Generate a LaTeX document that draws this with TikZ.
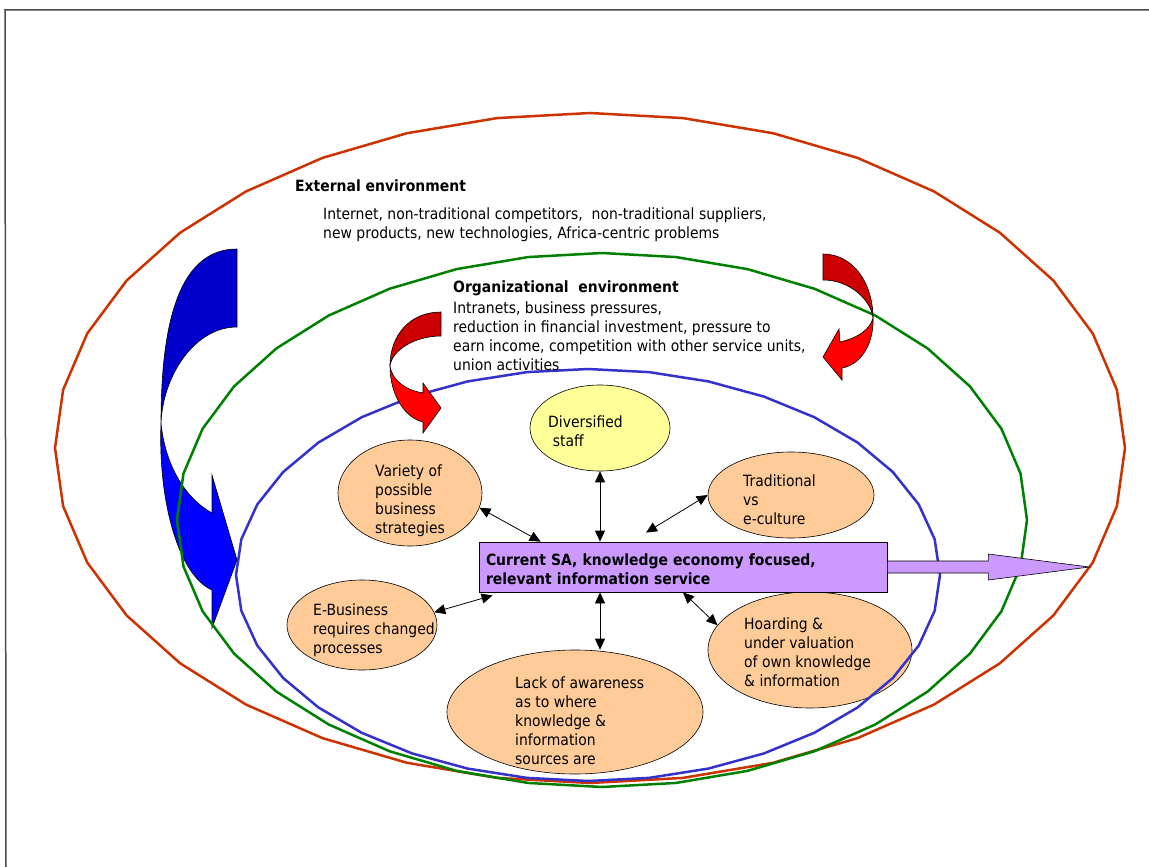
\documentclass[tikz,border=0pt]{standalone}
\usepackage{fontspec}
\setmainfont{DejaVu Sans}[FakeStretch=0.9]
\usetikzlibrary{arrows.meta,shapes.geometric,positioning}

\definecolor{ringred}{RGB}{204,51,0}
\definecolor{ringgreen}{RGB}{0,128,0}
\definecolor{ringblue}{RGB}{51,51,204}
\definecolor{peach}{RGB}{255,204,153}
\definecolor{paleyellow}{RGB}{255,255,153}
\definecolor{lilac}{RGB}{204,153,255}
\definecolor{darkred}{RGB}{204,0,0}
\definecolor{darkblue}{RGB}{0,0,204}

\newcommand\diafont{\fontsize{15.5pt}{19pt}\selectfont}

\begin{document}
\begin{tikzpicture}[x=1pt, y=-1pt,
    ring/.style={line width=2.5pt},
    bubble/.style={ellipse, draw, line width=0.6pt, fill=peach, inner sep=0pt},
    link/.style={{Triangle[length=11pt,width=10pt]}-{Triangle[length=11pt,width=10pt]},
                 line width=0.8pt},
    txt/.style={anchor=base west, align=left, inner sep=0pt, font=\diafont},
    headtxt/.style={txt, font=\diafont\bfseries},
    curvedarrow/.style={draw=black, line width=0.6pt}]
    \useasboundingbox (0,0) rectangle (1149,867);

    % page frame
    \draw[gray!60!black, line width=1.5pt] (1149,10) -- (5,10) -- (6,867);

    % blue curved arrow
    \filldraw[curvedarrow, fill=darkblue] (237,249) .. controls (180,249) and (161,320) .. (161,423)
        .. controls (163,375) and (195,327) .. (237,327) -- cycle;
    \filldraw[curvedarrow, fill=blue] (161,423) .. controls (158,500) and (178,575) .. (212,590)
        -- (212,628) -- (237,560) -- (212,475) -- (212,513)
        .. controls (185,498) and (165,465) .. (161,423) -- cycle;

    % bubbles
    \node[bubble, fill=paleyellow, minimum width=140pt, minimum height=86pt] (staff) at (600,428) {};
    \node[bubble, minimum width=144pt, minimum height=106pt] (strat) at (410,493) {};
    \node[bubble, minimum width=166pt, minimum height=86pt] (cult) at (791,495) {};
    \node[bubble, minimum width=150pt, minimum height=90pt] (ebiz) at (362,625) {};
    \node[bubble, minimum width=256pt, minimum height=124pt] (aware) at (575,712) {};
    \node[bubble, minimum width=204pt, minimum height=116pt] (hoard) at (810,650) {};

    % bubble texts (base = last line)
    \node[txt] (stafftxt) at (548,446) {Diversified\\\hspace{0.3em}staff};
    \node[txt] (strattxt) at (375,533) {Variety of\\possible\\business\\strategies};
    \node[txt] (culttxt) at (743,524) {Traditional\\vs\\e-culture};
    \node[txt] (ebiztxt) at (313,653) {E-Business\\requires changed\\processes};
    \node[txt] (awaretxt) at (515,764)
        {Lack of awareness\\as to where\\knowledge \&\\information\\sources are};
    \node[txt] (hoardtxt) at (744,686)
        {Hoarding \&\\under valuation\\of own knowledge\\\& information};

    % environment rings
    \draw[ring, ringred] plot[domain=0:360, samples=37] ({590+535*cos(\x)},{448+335*sin(\x)}) -- cycle;
    \draw[ring, ringgreen] plot[domain=0:360, samples=37] ({602+425*cos(\x)},{520+267*sin(\x)}) -- cycle;
    \draw[ring, ringblue] plot[domain=0:360, samples=37] ({588+352*cos(\x)},{575+206*sin(\x)}) -- cycle;

    % red curved arrows
    \filldraw[curvedarrow, fill=darkred] (441,312) .. controls (410,312) and (390,335) .. (390,366)
        .. controls (392,350) and (415,336) .. (441,336) -- cycle;
    \filldraw[curvedarrow, fill=red] (390,366) .. controls (390,395) and (405,418) .. (423,422)
        -- (423,433) -- (441,408) -- (423,383) -- (423,393)
        .. controls (405,390) and (392,380) .. (390,366) -- cycle;
    \filldraw[curvedarrow, fill=darkred] (823,254) .. controls (853,254) and (873,283) .. (873,318)
        .. controls (871,300) and (850,280) .. (823,280) -- cycle;
    \filldraw[curvedarrow, fill=red] (873,318) .. controls (874,345) and (860,365) .. (842,368)
        -- (842,380) -- (823,357) -- (839,329) -- (840,342)
        .. controls (857,338) and (870,330) .. (873,318) -- cycle;

    % service box with its arrow
    \node[draw, line width=0.8pt, fill=lilac, minimum height=50pt, text width=394pt,
          inner xsep=7pt, align=left, font=\diafont\bfseries] (box) at (683,567)
        {\rule{0pt}{17pt}Current SA, knowledge economy focused,\\relevant information service};
    \filldraw[curvedarrow, fill=lilac] ([yshift=6pt]box.east) -- ++(101,0) -- ++(0,-7) -- ++(101,13)
        -- ++(-101,13) -- ++(0,-7) -- ([yshift=-6pt]box.east) -- cycle;

    % links
    \draw[link] (staff.south) -- (staff.south |- box.north);
    \draw[link] (strat.-12) -- ([xshift=62pt]box.north west);
    \draw[link] (cult.west) -- ([xshift=-37pt,yshift=9pt]box.north);
    \draw[link] (ebiz.10) -- ([xshift=14pt,yshift=-3pt]box.south west);
    \draw[link] (box.south -| staff.south) -- (aware.north -| staff.south);
    \draw[link] (box.south) -- (hoard.165);

    % environment texts
    \node[headtxt] (ext) at (295,191) {External environment};
    \node[txt] (extlist) at (323,238)
        {Internet, non-traditional competitors,~ non-traditional suppliers,\\
         new products, new technologies, Africa-centric problems};
    \node[headtxt] (org) at (453,292) {Organizational~ environment};
    \node[txt] (orglist) at (453,370)
        {Intranets, business pressures,\\
         reduction in financial investment, pressure to\\
         earn income, competition with other service units,\\
         union activities};
\end{tikzpicture}
\end{document}
